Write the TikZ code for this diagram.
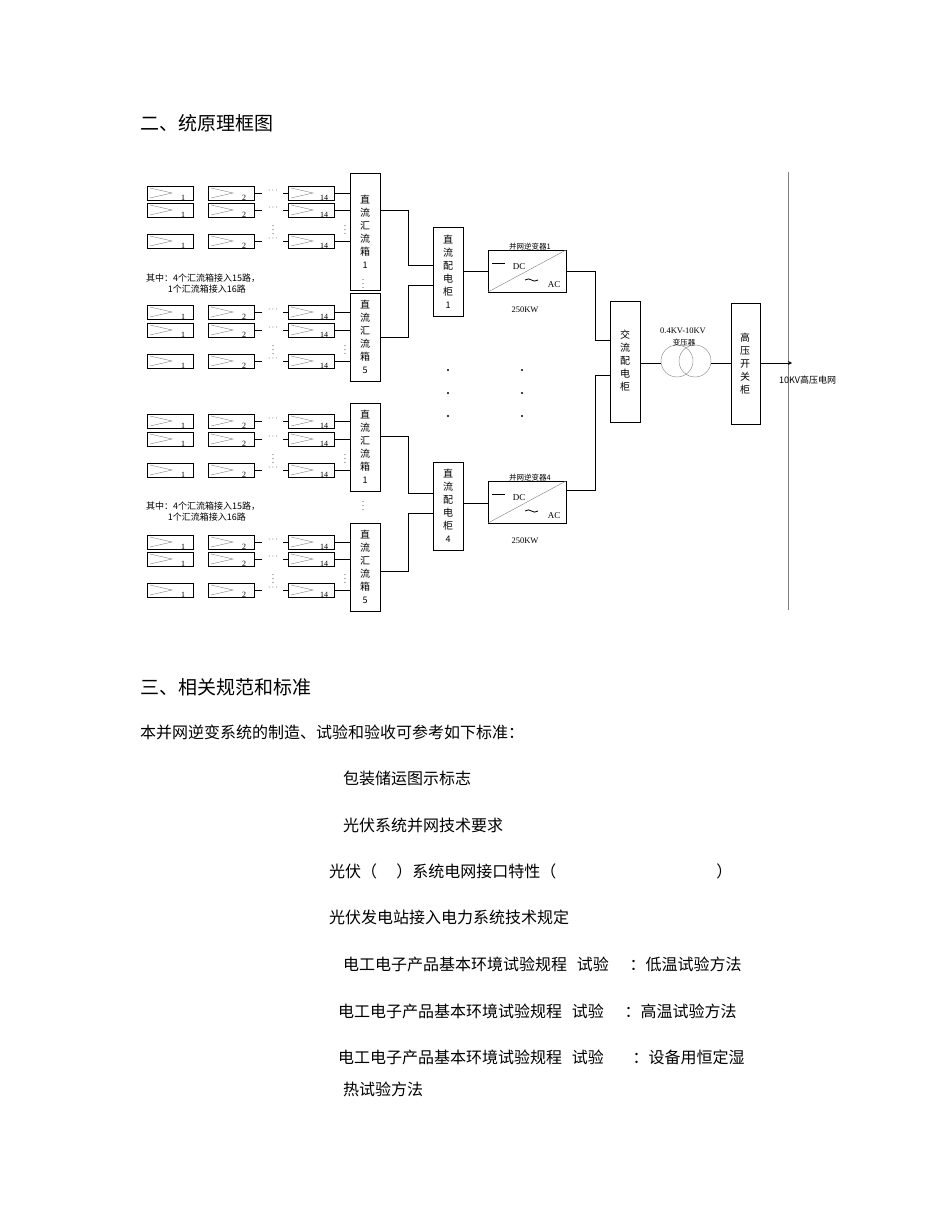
\documentclass[tikz,border=0pt]{standalone}
\usepackage{fontspec}
\setmainfont{Liberation Serif}
\newfontfamily\cjk{Noto Sans CJK SC}
\begin{document}
\begin{tikzpicture}[x=1pt,y=-1pt,
  box/.style={draw,thick,fill=white},
  vlab/.style={font=\cjk\fontsize{10}{13}\selectfont,align=center},
  small/.style={font=\fontsize{8}{9}\selectfont,inner sep=0pt},
  body/.style={font=\cjk\fontsize{16}{18}\selectfont,anchor=west,inner sep=0pt},
  wire/.style={thick}]
\useasboundingbox (0,0) rectangle (950,1230);
\newcommand\pvm[3]{%
  \draw[thick] (#1,#2) rectangle ++(46,14);
  \draw[gray] (#1+3,#2+2) -- (#1+25,#2+7) -- (#1+3,#2+12);
  \node[small] at (#1+36,#2+12) {#3};}
\node[body,font=\cjk\fontsize{19}{20}\selectfont] at (140,123) {二、统原理框图};
% groups
\foreach \a/\b/\c/\tp/\bt/\nm [count=\g] in {186/203/234/173/290/1,305/323/354/293/381/5,414/432/463/403/491/1,535/552/583/523/611/5}{
  \foreach \r in {\a,\b,\c}{
    \pvm{147}{\r}{1}
    \pvm{208}{\r}{2}
    \pvm{288}{\r}{14}
    \draw[wire] (254,\r+7) -- (262,\r+7);
    \node[small] at (273,\r+5) {$\cdots$};
    \draw[wire] (283,\r+7) -- (288,\r+7);
    \draw[wire] (334,\r+7) -- (350,\r+7);
  }
  \node[small] at (273,\b+24) {$\vdots$};
  \node[small] at (345,\b+24) {$\vdots$};
  \draw[box] (350,\tp) rectangle (380,\bt);
  \node[vlab] (cb\g) at (365,{(\tp+\bt)/2}) {直\\流\\汇\\流\\箱\\\fontsize{9}{9}\selectfont\nm};
}
\node[small] at (363,281) {$\vdots$};
\node[small] at (363,503) {$\vdots$};
\node[font=\cjk\fontsize{9}{11}\selectfont,anchor=west,align=left,inner sep=0pt] at (146,284) {其中：4个汇流箱接入15路，\\\hspace{2.4em}1个汇流箱接入16路};
\node[font=\cjk\fontsize{9}{11}\selectfont,anchor=west,align=left,inner sep=0pt] at (146,512) {其中：4个汇流箱接入15路，\\\hspace{2.4em}1个汇流箱接入16路};
% DC cabinets
\foreach \tp/\bt/\nm/\ya/\yb/\yc/\yd/\yi in {227/316/1/210/265/337/285/271,462/550/4/436/493/571/513/503}{
  \draw[wire] (380,\ya) -- (408,\ya) -- (408,\yb) -- (433,\yb);
  \draw[wire] (380,\yc) -- (408,\yc) -- (408,\yd) -- (433,\yd);
  \draw[box] (433,\tp) rectangle (463,\bt);
  \node[vlab] at (448,{(\tp+\bt)/2}) {直\\流\\配\\电\\柜\\\fontsize{9}{9}\selectfont\nm};
  \draw[wire] (463,\yi) -- (488,\yi);
}
% inverters
\foreach \tp/\nm/\yo/\ye in {250/1/271/340,481/4/490/375}{
  \draw[box] (488,\tp) rectangle (566,\tp+42);
  \draw[gray] (488,\tp+42) -- (566,\tp);
  \draw[thick] (492,\tp+13) -- (505,\tp+13);
  \node[small,font=\fontsize{9}{9}\selectfont] at (519,\tp+17) {DC};
  \draw[thick] (525,\tp+30) .. controls (530,\tp+26) and (533,\tp+34) .. (538,\tp+30);
  \node[small,font=\fontsize{9}{9}\selectfont] at (554,\tp+35) {AC};
  \node[font=\cjk\fontsize{7.5}{8}\selectfont,inner sep=0pt] at (530,\tp-3) {并网逆变器\nm};
  \node[small,font=\fontsize{8.5}{9}\selectfont] at (525,\tp+60) {250KW};
  \draw[wire] (566,\yo) -- (595,\yo) -- (595,\ye) -- (610,\ye);
}
\foreach \x in {448,522} \foreach \y in {370,393,416} \fill (\x,\y) circle (1.2);
% AC cabinet
\draw[box] (610,301) rectangle (640,422);
\node[vlab] (ac) at (625,361) {交\\流\\配\\电\\柜};
\draw[wire] (640,363) -- (661,363);
\draw[gray] (677,361) circle (16);
\draw[gray] (695,361) circle (16);
\draw[wire] (711,363) -- (731,363);
\node[small,font=\fontsize{8.5}{9}\selectfont] at (683,331) {0.4KV-10KV};
\node[small,font=\cjk\fontsize{7.5}{8}\selectfont] at (684,343) {变压器};
\draw[box] (731,303) rectangle (760,424);
\node[vlab] (hv) at (745,364) {高\\压\\开\\关\\柜};
\draw[gray] (788,172) -- (788,610);
\draw[wire,-stealth] (760,363) -- (792,363);
\node[font=\cjk\fontsize{9}{10}\selectfont,anchor=west,inner sep=0pt] at (779,380) {10KV高压电网};
% text
\node[body,font=\cjk\fontsize{19}{20}\selectfont] at (140,687) {三、相关规范和标准};
\node[body] at (140,732) {本并网逆变系统的制造、试验和验收可参考如下标准：};
\node[body] at (343,778) {包装储运图示标志};
\node[body] at (343,825) {光伏系统并网技术要求};
\node[body] at (329,871) {光伏（\hspace{1.2em}）系统电网接口特性（\hspace{10em}）};
\node[body] at (329,917) {光伏发电站接入电力系统技术规定};
\node[body] at (343,964) {电工电子产品基本环境试验规程\hspace{0.6em}试验\hspace{1.3em}：低温试验方法};
\node[body] at (338,1011) {电工电子产品基本环境试验规程\hspace{0.6em}试验\hspace{1.3em}：高温试验方法};
\node[body] at (338,1057) {电工电子产品基本环境试验规程\hspace{0.6em}试验\hspace{1.8em}：设备用恒定湿};
\node[body] at (343,1089) {热试验方法};
\end{tikzpicture}
\end{document}
